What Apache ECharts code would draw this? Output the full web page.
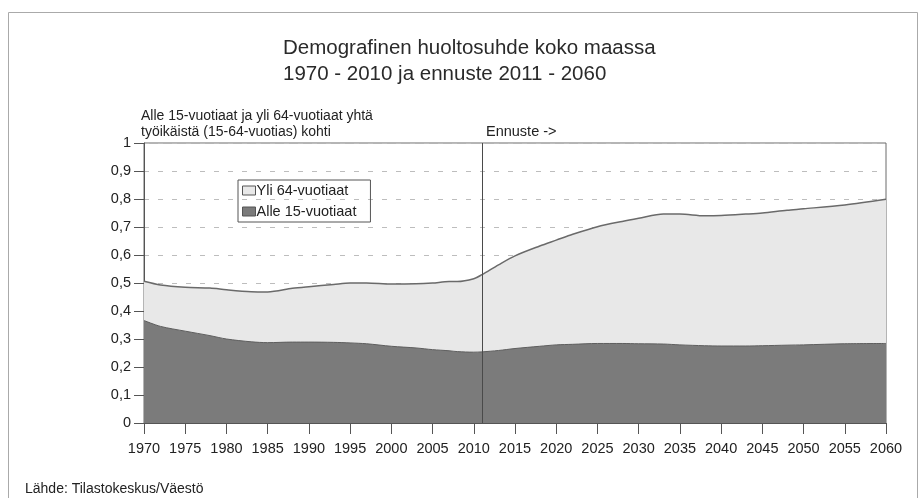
<!DOCTYPE html>
<html>
<head>
<meta charset="utf-8">
<script src="https://cdn.jsdelivr.net/npm/echarts@6/dist/echarts.min.js"></script>
<style>
  html, body { margin: 0; padding: 0; background: #fff; }
  #chart { width: 920px; height: 498px; }
</style>
</head>
<body>
<div id="chart"></div>
<script>
// vuodet, joista arvot on luettu kuvasta
const years = [1970, 1972, 1975, 1978, 1980, 1983, 1985, 1988, 1990, 1993, 1995, 1997,
  2000, 2003, 2005, 2007, 2008, 2010, 2011, 2013, 2015, 2018, 2020, 2022, 2025, 2028,
  2030, 2033, 2035, 2038, 2040, 2043, 2045, 2048, 2050, 2055, 2060];

const alle15 = [0.366, 0.345, 0.328, 0.312, 0.300, 0.290, 0.287, 0.289, 0.289, 0.288, 0.286, 0.283,
  0.274, 0.268, 0.262, 0.258, 0.255, 0.253, 0.254, 0.259, 0.266, 0.274, 0.279, 0.281, 0.284, 0.284,
  0.283, 0.282, 0.279, 0.276, 0.275, 0.275, 0.276, 0.278, 0.279, 0.283, 0.284];

const yli64 = [0.140, 0.148, 0.157, 0.170, 0.176, 0.179, 0.181, 0.192, 0.198, 0.207, 0.214, 0.217,
  0.222, 0.229, 0.238, 0.247, 0.250, 0.262, 0.276, 0.306, 0.331, 0.358, 0.374, 0.393, 0.417, 0.436,
  0.448, 0.464, 0.467, 0.464, 0.466, 0.471, 0.474, 0.482, 0.486, 0.496, 0.515];

const ennusteAlku = '2011';

// kategoria-akseli 1970..2060, arvot vain luetuille vuosille
const categories = [];
for (let y = 1970; y <= 2060; y++) categories.push(String(y));

function perVuosi(arr) {
  return categories.map(c => {
    const i = years.indexOf(Number(c));
    return i >= 0 ? arr[i] : null;
  });
}

document.addEventListener('DOMContentLoaded', function () {
  const chart = echarts.init(document.getElementById('chart'));
  const font = 'Liberation Sans, Arial, sans-serif';

  const option = {
    animation: false,
    textStyle: { fontFamily: font },
    title: {
      text: 'Demografinen huoltosuhde koko maassa\n1970 - 2010 ja ennuste 2011 - 2060',
      left: 278,
      top: 30,
      textStyle: { fontSize: 20.5, fontWeight: 'normal', color: '#2a2a2a', lineHeight: 26, fontFamily: font }
    },
    legend: {
      data: ['Yli 64-vuotiaat', 'Alle 15-vuotiaat'],
      orient: 'vertical',
      left: 238,
      top: 180,
      itemWidth: 13,
      itemHeight: 9,
      itemGap: 6,
      icon: 'rect',
      borderColor: '#555',
      borderWidth: 1,
      padding: [3, 14, 3, 4],
      itemStyle: { borderColor: '#555', borderWidth: 1 },
      textStyle: { fontSize: 14.5, color: '#222', fontFamily: font, padding: [0, 0, 0, -4] }
    },
    grid: {
      left: 144,
      right: 34,
      top: 143,
      bottom: 75,
      show: true,
      borderColor: '#6a6a6a',
      borderWidth: 1
    },
    xAxis: {
      type: 'category',
      data: categories,
      boundaryGap: false,
      axisLine: { show: true, lineStyle: { color: '#555' } },
      axisTick: { show: true, length: 11, interval: 4, lineStyle: { color: '#555' } },
      axisLabel: { fontSize: 14.5, color: '#222', margin: 18, interval: 4, fontFamily: font },
      splitLine: { show: false }
    },
    yAxis: {
      type: 'value',
      min: 0,
      max: 1,
      interval: 0.1,
      axisLine: { show: true, lineStyle: { color: '#555' } },
      axisTick: { show: true, length: 10, lineStyle: { color: '#555' } },
      axisLabel: {
        fontSize: 14.5,
        color: '#222',
        margin: 13,
        fontFamily: font,
        formatter: function (v) { return String(Math.round(v * 10) / 10).replace('.', ','); }
      },
      splitLine: { show: true, lineStyle: { color: '#bdbdbd', type: [5, 9], width: 1 } }
    },
    series: [
      {
        name: 'Alle 15-vuotiaat',
        type: 'line',
        stack: 'huolto',
        smooth: 0.3,
        connectNulls: true,
        symbol: 'none',
        data: perVuosi(alle15),
        lineStyle: { color: '#5e5e5e', width: 1 },
        itemStyle: { color: '#7b7b7b' },
        areaStyle: { color: '#7b7b7b', opacity: 1 },
        z: 3,
        markLine: {
          silent: true,
          symbol: 'none',
          label: { show: false },
          lineStyle: { color: '#4a4a4a', type: 'solid', width: 1 },
          data: [{ xAxis: ennusteAlku }]
        }
      },
      {
        name: 'Yli 64-vuotiaat',
        type: 'line',
        stack: 'huolto',
        smooth: 0.3,
        connectNulls: true,
        symbol: 'none',
        data: perVuosi(yli64),
        lineStyle: { color: '#6a6a6a', width: 1.5 },
        itemStyle: { color: '#e8e8e8' },
        areaStyle: { color: '#e8e8e8', opacity: 1 },
        z: 2
      }
    ],
    graphic: [
      {
        type: 'rect',
        silent: true,
        shape: { x: 8.5, y: 12.5, width: 909, height: 500 },
        style: { fill: 'none', stroke: '#aaaaaa', lineWidth: 1 }
      },
      {
        type: 'text',
        left: 141,
        top: 108,
        style: {
          text: 'Alle 15-vuotiaat ja yli 64-vuotiaat yhtä\ntyöikäistä (15-64-vuotias) kohti',
          font: '14px ' + font,
          lineHeight: 16,
          fill: '#222'
        }
      },
      {
        type: 'text',
        left: 486,
        top: 124,
        style: { text: 'Ennuste ->', font: '14.5px ' + font, fill: '#222' }
      },
      {
        type: 'text',
        left: 25,
        top: 482,
        style: { text: 'Lähde: Tilastokeskus/Väestö', font: '14px ' + font, fill: '#222' }
      }
    ]
  };

  chart.setOption(option);

  window.addEventListener('resize', function () {
    chart.resize();
  });
});
</script>
</body>
</html>
